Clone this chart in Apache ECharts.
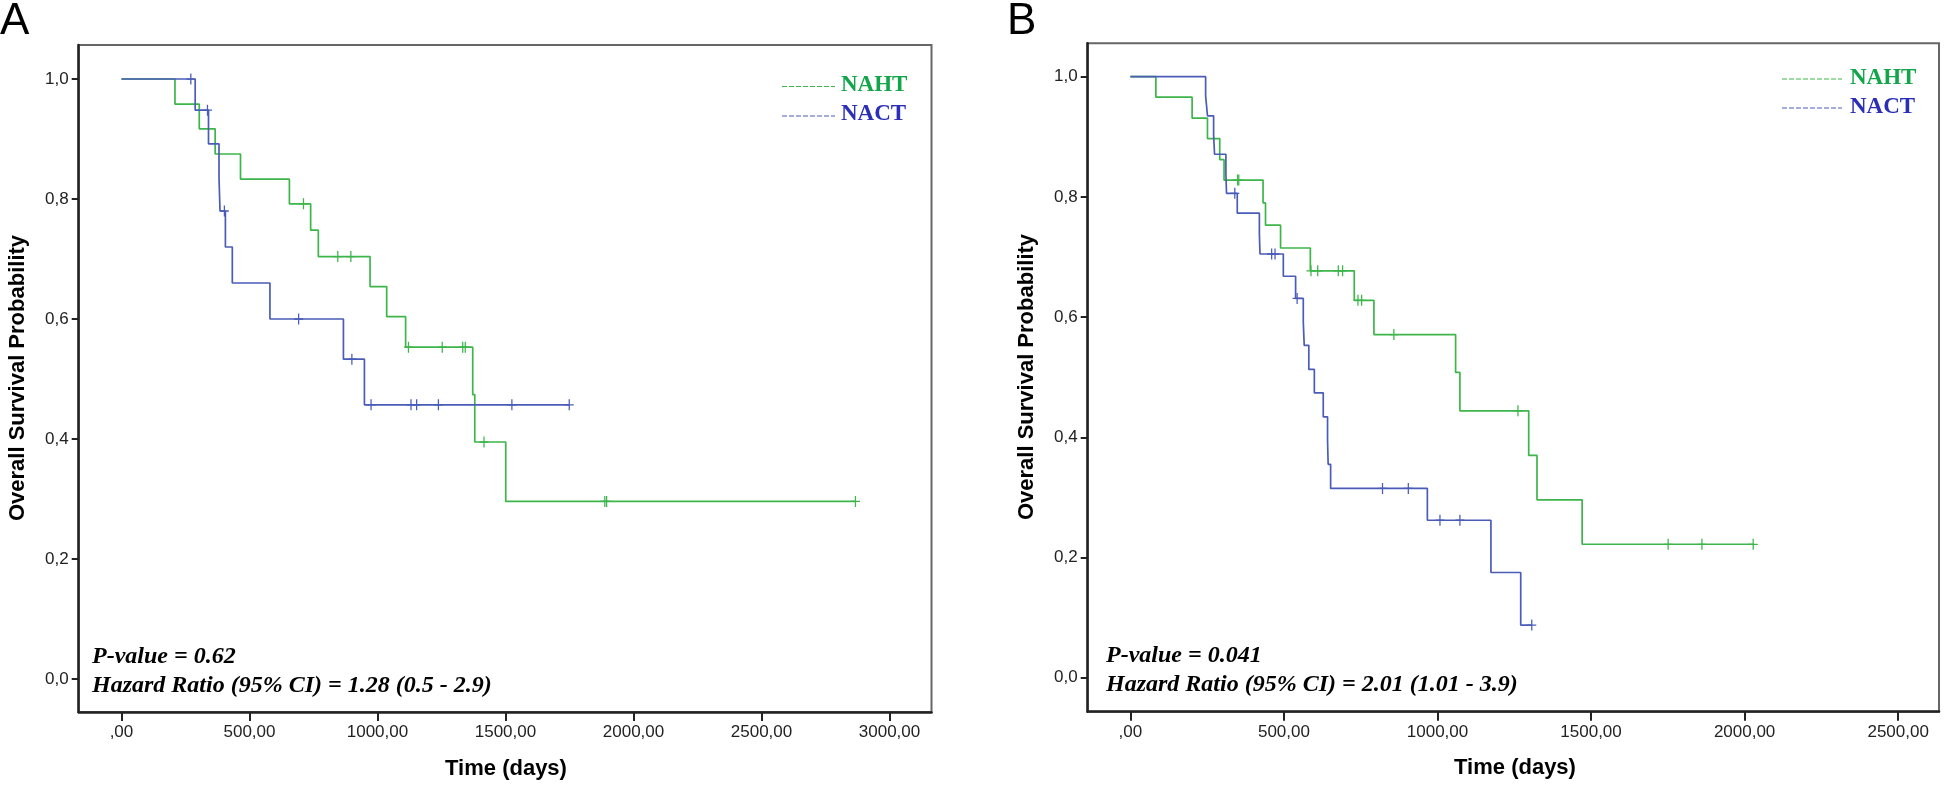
<!DOCTYPE html>
<html>
<head>
<meta charset="utf-8">
<script src="https://cdn.jsdelivr.net/npm/echarts@6/dist/echarts.min.js"></script>
<style>
  html, body { margin: 0; padding: 0; background: #fff; }
  #main { width: 1944px; height: 785px; }
</style>
</head>
<body>
<div id="main"></div>
<script>
// panel A : step points (time, survival) and censored times
const aNahtTime = [0, 209, 304, 366, 465, 656, 739, 769, 971, 1036, 1110, 1372, 1380, 1501, 2867];
const aNahtSurv = [1, 0.958, 0.917, 0.875, 0.833, 0.792, 0.748, 0.704, 0.654, 0.604, 0.553, 0.474, 0.395, 0.296, 0.296];
const aNahtCens = [711, 845, 896, 1121, 1253, 1333, 1343, 1416, 1888, 1895, 2867];

const aNactTime = [0, 288, 340, 381, 385, 406, 433, 580, 867, 949, 1749];
const aNactSurv = [1, 0.948, 0.892, 0.836, 0.780, 0.720, 0.660, 0.600, 0.533, 0.457, 0.457];
const aNactCens = [271, 336, 402, 692, 900, 975, 1131, 1153, 1238, 1525, 1749];

// panel B
const bNahtTime = [0, 83, 201, 251, 291, 305, 432, 440, 489, 586, 729, 793, 1059, 1073, 1297, 1324, 1471, 2028];
const bNahtSurv = [1, 0.966, 0.931, 0.897, 0.862, 0.828, 0.790, 0.753, 0.715, 0.677, 0.628, 0.571, 0.508, 0.444, 0.370, 0.296, 0.222, 0.222];
const bNahtCens = [349, 353, 588, 610, 677, 691, 741, 753, 858, 1262, 1751, 1861, 2028];

const bNactTime = [0, 245, 251, 271, 274, 311, 313, 348, 420, 422, 498, 538, 563, 566, 581, 599, 628, 642, 644, 652, 967, 1174, 1271, 1307];
const bNactSurv = [1, 0.968, 0.935, 0.903, 0.871, 0.839, 0.806, 0.773, 0.739, 0.705, 0.668, 0.631, 0.592, 0.553, 0.513, 0.474, 0.434, 0.394, 0.355, 0.315, 0.262, 0.175, 0.0875, 0.0875];
const bNactCens = [340, 460, 471, 543, 821, 905, 1008, 1073, 1307];

const yTicks = [0, 0.2, 0.4, 0.6, 0.8, 1.0];
const aXTicks = [0, 500, 1000, 1500, 2000, 2500, 3000];
const bXTicks = [0, 500, 1000, 1500, 2000, 2500];

const cGreen = '#3db54b';
const cBlue = '#4a5cb8';
const plus = 'path://M-5,-0.7L5,-0.7L5,0.7L-5,0.7Z M-0.7,-6L0.7,-6L0.7,6L-0.7,6Z';

function steps(times, surv) {
  return times.map((t, i) => [t, surv[i]]);
}
function censPts(times, surv, cens) {
  return cens.map(c => {
    let v = surv[0];
    for (let i = 0; i < times.length; i++) if (times[i] <= c) v = surv[i];
    return [c, v];
  });
}
function fmtX(v) { return v === 0 ? ',00' : v + ',00'; }
function fmtY(v) { return v.toFixed(1).replace('.', ','); }

function xAx(idx, min, max, ticks) {
  return {
    type: 'value', gridIndex: idx, min: min, max: max, position: 'bottom',
    axisLine: { show: true, onZero: false, lineStyle: { color: '#222', width: 2.5 } },
    axisTick: { show: true, length: 9, customValues: ticks, lineStyle: { color: '#222', width: 2 } },
    axisLabel: { customValues: ticks, formatter: fmtX, margin: 12, color: '#222', fontSize: 17, fontFamily: 'Liberation Sans' },
    splitLine: { show: false }
  };
}
function yAx(idx, min, max) {
  return {
    type: 'value', gridIndex: idx, min: min, max: max,
    axisLine: { show: true, onZero: false, lineStyle: { color: '#222', width: 2.5 } },
    axisTick: { show: true, length: 7, customValues: yTicks, lineStyle: { color: '#222', width: 2 } },
    axisLabel: { customValues: yTicks, formatter: fmtY, margin: 10, color: '#222', fontSize: 17, fontFamily: 'Liberation Sans' },
    splitLine: { show: false }
  };
}
function curve(idx, data, color) {
  return {
    type: 'line', xAxisIndex: idx, yAxisIndex: idx, step: 'end', data: data,
    showSymbol: false, symbol: 'none', lineStyle: { color: color, width: 1.7 }, z: 3
  };
}
function marks(idx, data, color) {
  return {
    type: 'scatter', xAxisIndex: idx, yAxisIndex: idx, data: data,
    symbol: plus, symbolSize: [9, 11], itemStyle: { color: color, opacity: 1 }, z: 4
  };
}

function txt(x, y, text, font, color, align, rot) {
  return {
    type: 'text', x: x, y: y, rotation: rot || 0, silent: true,
    style: { text: text, font: font, fill: color, align: align || 'left', verticalAlign: 'middle',
             textAlign: align || 'left', textVerticalAlign: 'middle' }
  };
}
function dashLine(x1, x2, y, color) {
  return {
    type: 'line', silent: true,
    shape: { x1: x1, y1: y, x2: x2, y2: y },
    style: { stroke: color, lineWidth: 1.2, lineDash: [5, 2] }
  };
}

const serifB = 'bold 23px "Liberation Serif"';
const serifBI = 'italic bold 24px "Liberation Serif"';
const sansB = 'bold 22px "Liberation Sans"';

const myChart = echarts.init(document.getElementById('main'), null, { renderer: 'canvas' });
const option = {
  animation: false,
  backgroundColor: '#fff',
  grid: [
    { left: 78.7, top: 45, width: 852.8, height: 667, show: true, borderColor: '#666', borderWidth: 2, containLabel: false, outerBoundsMode: 'none' },
    { left: 1087.7, top: 43.3, width: 851.3, height: 668.4, show: true, borderColor: '#666', borderWidth: 2, containLabel: false, outerBoundsMode: 'none' }
  ],
  xAxis: [xAx(0, -167, 3164, aXTicks), xAx(1, -139, 2633, bXTicks)],
  yAxis: [yAx(0, -0.055, 1.0567), yAx(1, -0.0566, 1.0556)],
  series: [
    curve(0, steps(aNahtTime, aNahtSurv), cGreen),
    curve(0, steps(aNactTime, aNactSurv), cBlue),
    marks(0, censPts(aNahtTime, aNahtSurv, aNahtCens), cGreen),
    marks(0, censPts(aNactTime, aNactSurv, aNactCens), cBlue),
    curve(1, steps(bNahtTime, bNahtSurv), cGreen),
    curve(1, steps(bNactTime, bNactSurv), cBlue),
    marks(1, censPts(bNahtTime, bNahtSurv, bNahtCens), cGreen),
    marks(1, censPts(bNactTime, bNactSurv, bNactCens), cBlue)
  ],
  graphic: [
    txt(0, 22, 'A', '44px "Liberation Sans"', '#000'),
    txt(1007, 22, 'B', '44px "Liberation Sans"', '#000'),
    // legends
    dashLine(782, 835, 86.5, cGreen), txt(841, 85, 'NAHT', serifB, '#12a54a'),
    dashLine(782, 835, 116, cBlue), txt(841, 114, 'NACT', serifB, '#2b2fb8'),
    dashLine(1782, 1842, 79, cGreen), txt(1850, 78, 'NAHT', serifB, '#12a54a'),
    dashLine(1782, 1842, 108, cBlue), txt(1850, 107, 'NACT', serifB, '#2b2fb8'),
    // statistics
    txt(92, 657, 'P-value = 0.62', serifBI, '#000'),
    txt(92, 686, 'Hazard Ratio (95% CI) = 1.28 (0.5 - 2.9)', serifBI, '#000'),
    txt(1106, 656, 'P-value = 0.041', serifBI, '#000'),
    txt(1106, 685, 'Hazard Ratio (95% CI) = 2.01 (1.01 - 3.9)', serifBI, '#000'),
    // axis titles
    txt(506, 769, 'Time (days)', sansB, '#000', 'center'),
    txt(1515, 768, 'Time (days)', sansB, '#000', 'center'),
    txt(18, 378, 'Overall Survival Probability', sansB, '#000', 'center', Math.PI / 2),
    txt(1027, 377, 'Overall Survival Probability', sansB, '#000', 'center', Math.PI / 2)
  ]
};
option && myChart.setOption(option);
</script>
</body>
</html>
